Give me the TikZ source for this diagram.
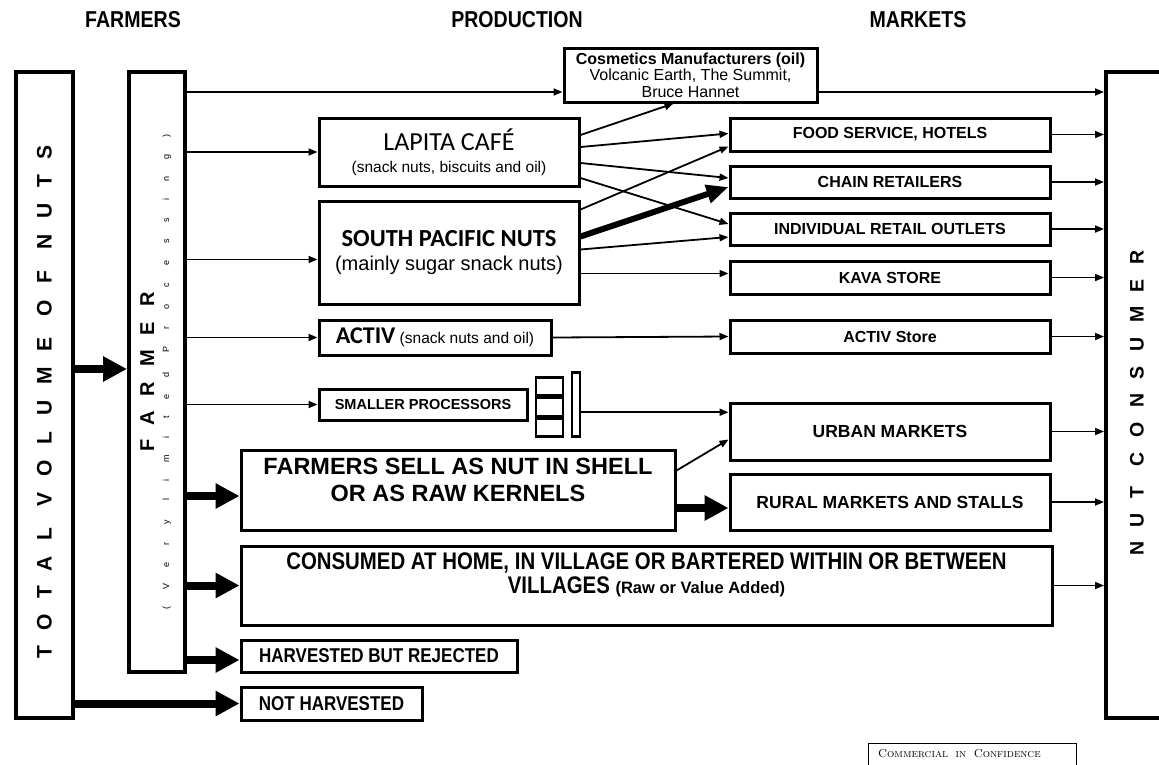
\documentclass[tikz,border=0pt]{standalone}
\usepackage{fontspec}
\usetikzlibrary{arrows.meta,calc}
\newfontfamily\arialfont{Liberation Sans}
\newfontfamily\narrowfont[FakeStretch=0.85]{Liberation Sans}
\newfontfamily\calibrifont{Carlito}
\newfontfamily\spacedfont[LetterSpace=75]{Liberation Sans}
\newfontfamily\trackedfont[LetterSpace=190]{Liberation Sans}
\tikzstyle{unitbox} = [draw=black, line width=3pt, rectangle, inner sep=0pt,
    align=center, anchor=north west, font=\arialfont\bfseries\fontsize{16}{18}\selectfont]
\tikzstyle{sidebox} = [draw=black, line width=4pt, rectangle, inner sep=0pt, anchor=north west]
\tikzstyle{marketbox} = [unitbox, minimum width=320]
\tikzstyle{stackbox} = [draw=black, line width=2.5pt, rectangle, inner sep=0pt, anchor=north west]
\tikzstyle{heading} = [font=\narrowfont\bfseries\fontsize{23}{26}\selectfont]
\tikzstyle{flow} = [-{Triangle[length=9pt,width=7pt]}, line width=1.8pt]
\tikzstyle{midflow} = [-{Triangle[length=22pt,width=18pt]}, line width=6pt]
\tikzstyle{bigflow} = [-{Triangle[length=24pt,width=24pt]}, line width=8pt]
\begin{document}
\begin{tikzpicture}[x=1pt,y=-1pt]
\useasboundingbox (0,0) rectangle (1159,764);
\node[heading] (hfarm) at (133,20) {FARMERS};
\node[heading] (hprod) at (517,20) {PRODUCTION};
\node[heading] (hmark) at (918,20) {MARKETS};

\node[sidebox, minimum width=57, minimum height=646] (tot) at (14,70)
    {\rotatebox{90}{\spacedfont\bfseries\fontsize{21}{21}\selectfont TOTAL VOLUME OF NUTS\hspace{14pt}}};
\node[sidebox, minimum width=56, minimum height=600, font=\fontsize{10}{15}\selectfont] (far) at (127,70)
    {\rotatebox{90}{\begin{tabular}{@{}c@{}}{\spacedfont\bfseries\fontsize{20}{20}\selectfont FARMER\hspace{16pt}}\\
     {\trackedfont\fontsize{9}{9}\selectfont (Very limited Processing)}\end{tabular}}};
\node[sidebox, minimum width=62, minimum height=646] (con) at (1104,70)
    {\rotatebox{90}{\spacedfont\bfseries\fontsize{19.5}{19.5}\selectfont NUT CONSUMER\hspace{16pt}}};

\node[unitbox, minimum width=253, minimum height=54, font=\arialfont\fontsize{16}{16.5}\selectfont] (cos) at (562.5,46.5)
    {\textbf{Cosmetics Manufacturers (oil)}\\Volcanic Earth, The Summit,\\Bruce Hannet};
\node[unitbox, minimum width=260, minimum height=68, font=\arialfont\fontsize{15.5}{22}\selectfont] (lap) at (317.5,116.5)
    {{\calibrifont\fontsize{26}{26}\selectfont LAPITA CAFÉ}\\(snack nuts, biscuits and oil)};
\node[unitbox, minimum width=260, minimum height=103, font=\arialfont\fontsize{20}{24}\selectfont] (spn) at (317.5,199.5)
    {{\calibrifont\bfseries\fontsize{24.5}{24}\selectfont SOUTH PACIFIC NUTS}\\(mainly sugar snack nuts)};
\node[unitbox, minimum width=232, minimum height=35, font=\arialfont\fontsize{15.5}{18}\selectfont] (act) at (317.5,318.5)
    {{\calibrifont\bfseries\fontsize{24}{24}\selectfont ACTIV} (snack nuts and oil)};
\node[unitbox, minimum width=208, minimum height=31, font=\arialfont\bfseries\fontsize{14.5}{15}\selectfont] (smp) at (317.5,387.5)
    {SMALLER PROCESSORS};
\node[stackbox, minimum width=27, minimum height=18] (cellA) at (534.5,376) {};
\node[stackbox, minimum width=27, minimum height=18] (cellB) at (cellA.south west) {};
\node[stackbox, minimum width=27, minimum height=18] (cellC) at (cellB.south west) {};
\node[stackbox, minimum width=8, minimum height=64] (bar) at (570.5,371) {};
\node[unitbox, minimum width=434, minimum height=80, font=\arialfont\bfseries\fontsize{23.5}{27}\selectfont] (sell) at (239.5,448.5)
    {FARMERS SELL AS NUT IN SHELL\\OR AS RAW KERNELS\\[-7pt]};
\node[unitbox, minimum width=811, minimum height=79, font=\narrowfont\bfseries\fontsize{24}{24}\selectfont] (home) at (239.5,544.5)
    {CONSUMED AT HOME, IN VILLAGE OR BARTERED WITHIN OR BETWEEN\\
     VILLAGES {\arialfont\fontsize{16.5}{24}\selectfont (Raw or Value Added)}\\};
\node[unitbox, minimum width=276, minimum height=32, font=\narrowfont\bfseries\fontsize{20}{20}\selectfont] (rej) at (239.5,638.5)
    {HARVESTED BUT REJECTED};
\node[unitbox, minimum width=181, minimum height=33, font=\narrowfont\bfseries\fontsize{20}{20}\selectfont] (noth) at (239.5,685.5)
    {NOT HARVESTED};

\node[marketbox, minimum height=33] (food) at (728.5,116.5) {FOOD SERVICE, HOTELS};
\node[marketbox, minimum height=32] (chain) at (728.5,164.5) {CHAIN RETAILERS};
\node[marketbox, minimum height=32] (indiv) at (728.5,211.5) {INDIVIDUAL RETAIL OUTLETS};
\node[marketbox, minimum height=33] (kava) at (728.5,259.5) {KAVA STORE};
\node[marketbox, minimum height=33] (astore) at (728.5,318.5) {ACTIV Store};
\node[marketbox, minimum height=57, font=\arialfont\bfseries\fontsize{17.5}{18}\selectfont] (urban) at (728.5,401.5) {URBAN MARKETS};
\node[marketbox, minimum height=56, font=\arialfont\bfseries\fontsize{17.5}{18}\selectfont] (rural) at (728.5,472.5) {RURAL MARKETS AND STALLS};

\node[draw=black, line width=1.2pt, anchor=north west, inner xsep=10pt, inner ysep=6pt, text width=188pt,
    align=left, text depth=24pt, font=\rmfamily\scshape\fontsize{11.5}{12}\selectfont] (conf) at (867.5,742.5)
    {Commercial\ \ in\ \ Confidence};

\coordinate (totout) at ($(tot.east)+(0,-26)$);
\coordinate (cosin) at ($(cos.west)+(0,17)$);
\coordinate (cosout) at ($(cos.east)+(0,17)$);
\coordinate (spnin) at ($(spn.west)+(0,7)$);
\coordinate (sellin) at ($(sell.west)+(0,6)$);
\coordinate (rejin) at ($(rej.west)+(0,4)$);
\coordinate (barout) at ($(bar.east)+(0,8)$);
\coordinate (sellout) at ($(sell.east)+(0,18)$);

\draw[bigflow] (totout) -- (far.west |- totout);
\draw[bigflow] (tot.east |- noth.west) -- (noth.west);
\draw[flow] (far.east |- cosin) -- (cosin);
\draw[flow] (far.east |- lap.west) -- (lap.west);
\draw[flow] (far.east |- spnin) -- (spnin);
\draw[flow] (far.east |- act.west) -- (act.west);
\draw[flow] (far.east |- smp.west) -- (smp.west);
\draw[bigflow] (far.east |- sellin) -- (sellin);
\draw[bigflow] (far.east |- home.west) -- (home.west);
\draw[bigflow] (far.east |- rejin) -- (rejin);

\draw[flow] ($(lap.east)+(0,-17)$) -- ($(cos.south)+(-17,0)$);
\draw[flow] ($(lap.east)+(0,-5)$) -- ($(food.west)+(0,-1)$);
\draw[flow] ($(lap.east)+(0,11)$) -- ($(chain.west)+(0,-4)$);
\draw[flow] ($(lap.east)+(0,26)$) -- ($(indiv.west)+(0,-5)$);
\draw[flow] ($(spn.east)+(0,-43)$) -- ($(food.west)+(0,12)$);
\draw[midflow] ($(spn.east)+(0,-16)$) -- ($(chain.west)+(0,5)$);
\draw[flow] ($(spn.east)+(0,-3)$) -- ($(indiv.west)+(0,8)$);
\draw[flow] ($(spn.east)+(0,21)$) -- ($(kava.west)+(0,-4)$);
\draw[flow] (act.east) -- (astore.west);
\draw[flow] (barout) -- (urban.west |- barout);
\draw[flow] ($(sell.north east)+(0,22)$) -- ($(urban.south west)+(0,-22)$);
\draw[bigflow] (sellout) -- (rural.west |- sellout);

\draw[flow] (cosout) -- (con.west |- cosout);
\draw[flow] (food.east) -- (con.west |- food.east);
\draw[flow] (chain.east) -- (con.west |- chain.east);
\draw[flow] (indiv.east) -- (con.west |- indiv.east);
\draw[flow] (kava.east) -- (con.west |- kava.east);
\draw[flow] (astore.east) -- (con.west |- astore.east);
\draw[flow] (urban.east) -- (con.west |- urban.east);
\draw[flow] (rural.east) -- (con.west |- rural.east);
\draw[flow] (home.east) -- (con.west |- home.east);
\end{tikzpicture}
\end{document}
